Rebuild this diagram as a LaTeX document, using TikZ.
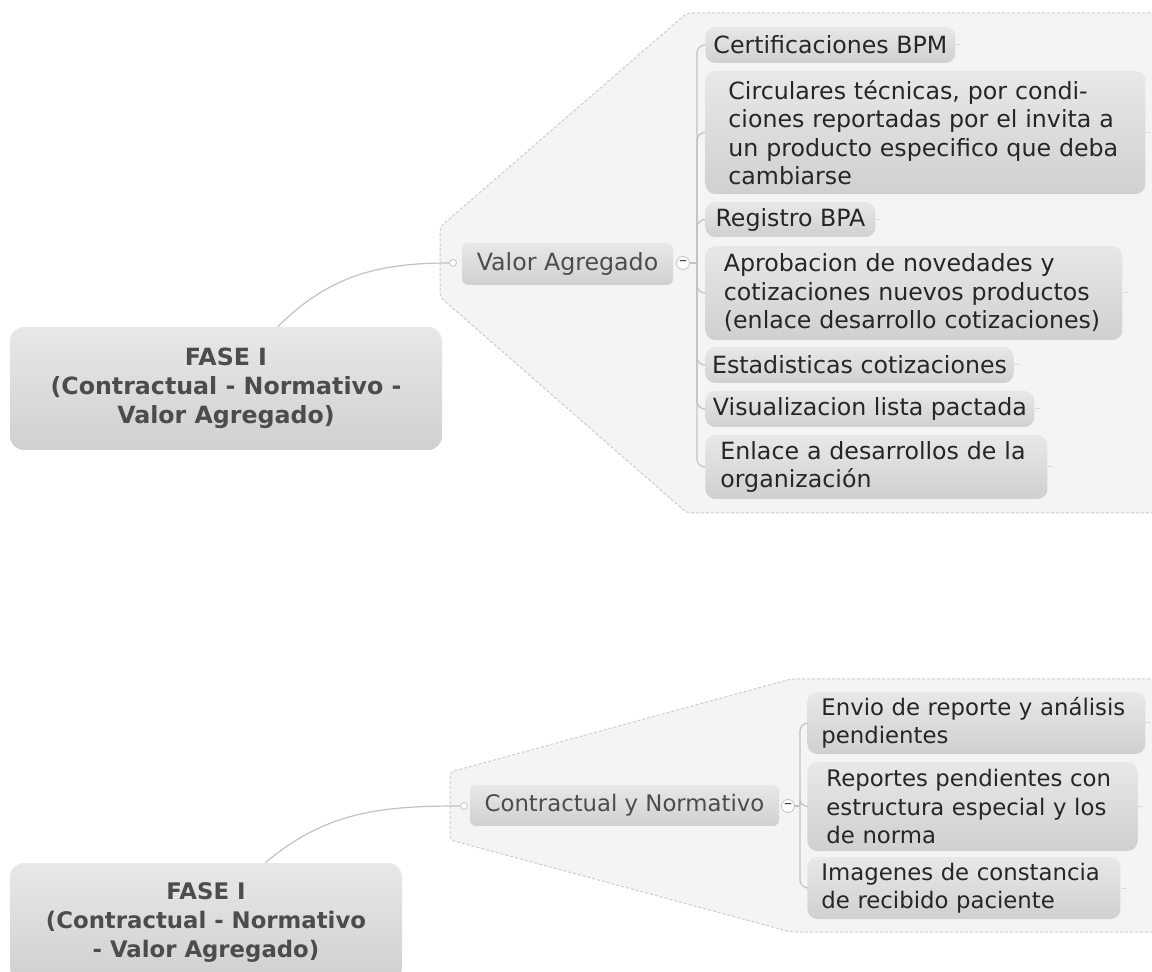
\documentclass[tikz,border=0pt]{standalone}
\usepackage{fontspec}
\setmainfont{DejaVu Sans}
\definecolor{boxtop}{HTML}{E8E8E8}
\definecolor{boxbot}{HTML}{D0D0D0}
\definecolor{zonefill}{HTML}{F4F4F4}
\definecolor{zoneline}{HTML}{CDCDCD}
\definecolor{linkgray}{HTML}{C2C2C2}
\definecolor{labelgray}{HTML}{4C4C4C}
\begin{document}
\begin{tikzpicture}[x = 0.5pt, y = -0.5pt,
        root/.style = {rounded corners = 7pt, top color = boxtop, bottom color = boxbot,
            text = labelgray, font = \bfseries\fontsize{#1}{14.5}\selectfont, align = center},
        root/.default = 11.85,
        topic/.style = {rounded corners = 3pt, top color = boxtop, bottom color = boxbot,
            text = labelgray, font = \fontsize{#1}{14.25}\selectfont, minimum height = 21pt},
        topic/.default = 11.85,
        item/.style = {rounded corners = 5pt, top color = boxtop, bottom color = boxbot,
            text = black!85, font = \fontsize{#1}{14.25}\selectfont, align = left,
            anchor = west, inner ysep = 0pt},
        item/.default = 11.85,
        zone/.style = {fill = zonefill, draw = zoneline, dash pattern = on 1.5pt off 1pt,
            line width = 0.5pt, rounded corners = 2pt},
        link/.style = {draw = linkgray, line width = 0.6pt},
        stub/.style = {draw = linkgray!60, line width = 0.5pt},
        knob/.style = {circle, draw = linkgray, fill = white, inner sep = 0pt, minimum size = 3.5pt},
        toggle/.style = {circle, draw = linkgray, fill = white, inner sep = 0pt, minimum size = 6.5pt,
            text = black!75, font = \fontsize{8}{8}\selectfont}]
    \clip (0,0) rectangle (1152,972);

    % upper map
    \draw[zone] (1160,13) -- (687,13) -- (440,227) -- (440,297) -- (687,513) -- (1160,513);
    \node[root, minimum width = 216pt, minimum height = 61.5pt] (rootA) at (226,388.5)
        {FASE I\\(Contractual - Normativo -\\Valor Agregado)};
    \node[topic, minimum width = 105.5pt] (valor) at (567.5,264) {Valor Agregado};
    \node[knob] (dotA) at (453,263) {};
    \node[toggle] (foldA) at (683,263) {\textendash};
    \coordinate (forkA) at (697,263);

    \node[item, minimum width = 125pt, minimum height = 18pt] (cert) at (705,45)
        {Certificaciones BPM};
    \node[item, text width = 197pt, inner xsep = 11.5pt, minimum height = 61.5pt] (circ) at (705,132.5)
        {Circulares técnicas, por condi-\\ciones reportadas por el invita a\\un producto especifico que deba\\cambiarse};
    \node[item, minimum width = 85pt, minimum height = 17.5pt] (regis) at (705,219.5)
        {Registro BPA};
    \node[item, text width = 190pt, inner xsep = 9.25pt, minimum height = 47pt] (aprob) at (705,293)
        {Aprobacion de novedades y\\cotizaciones nuevos productos\\(enlace desarrollo cotizaciones)};
    \node[item, minimum width = 154pt, minimum height = 18pt] (estad) at (705,365)
        {Estadisticas cotizaciones};
    \node[item, minimum width = 164.5pt, minimum height = 18pt] (visual) at (705,409)
        {Visualizacion lista pactada};
    \node[item, text width = 156pt, inner xsep = 7.5pt, minimum height = 32pt] (enlace) at (705,467)
        {Enlace a desarrollos de la\\organización};

    \draw[link] (rootA.50) to[out = 45, in = 180] (dotA.west);
    \draw[link] (foldA.east) -- (forkA);
    \foreach \kid in {cert, circ, regis, aprob, estad, visual, enlace} {
        \draw[link, rounded corners = 4pt] (forkA) |- (\kid.west);
        \draw[stub] (\kid.east) -- ++(5,0);
    }

    % lower map
    \draw[zone] (1160,679) -- (791,679) -- (450,772) -- (450,840) -- (791,932) -- (1160,932);
    \node[root = 11.4, minimum width = 196pt, minimum height = 59pt] (rootB) at (206,922)
        {FASE I\\(Contractual - Normativo\\- Valor Agregado)};
    \node[topic = 11.4, minimum width = 154.5pt, minimum height = 20.5pt] (contra) at (624.5,805.5)
        {Contractual y Normativo};
    \node[knob] (dotB) at (464,806) {};
    \node[toggle] (foldB) at (788,806) {\textendash};
    \coordinate (forkB) at (800,806);

    \node[item = 11.4, text width = 155pt, inner xsep = 7pt, minimum height = 31pt] (envio) at (807,723)
        {Envio de reporte y análisis\\pendientes};
    \node[item = 11.4, text width = 146pt, inner xsep = 9.5pt, minimum height = 44.5pt] (report) at (807,806.5)
        {Reportes pendientes con\\estructura especial y los\\de norma};
    \node[item = 11.4, text width = 142.5pt, inner xsep = 7pt, minimum height = 31pt] (imagen) at (807,888)
        {Imagenes de constancia\\de recibido paciente};

    \draw[link] (rootB.45) to[out = 40, in = 180] (dotB.west);
    \draw[link] (foldB.east) -- (forkB);
    \foreach \kid in {envio, report, imagen} {
        \draw[link, rounded corners = 4pt] (forkB) |- (\kid.west);
        \draw[stub] (\kid.east) -- ++(5,0);
    }
\end{tikzpicture}
\end{document}
